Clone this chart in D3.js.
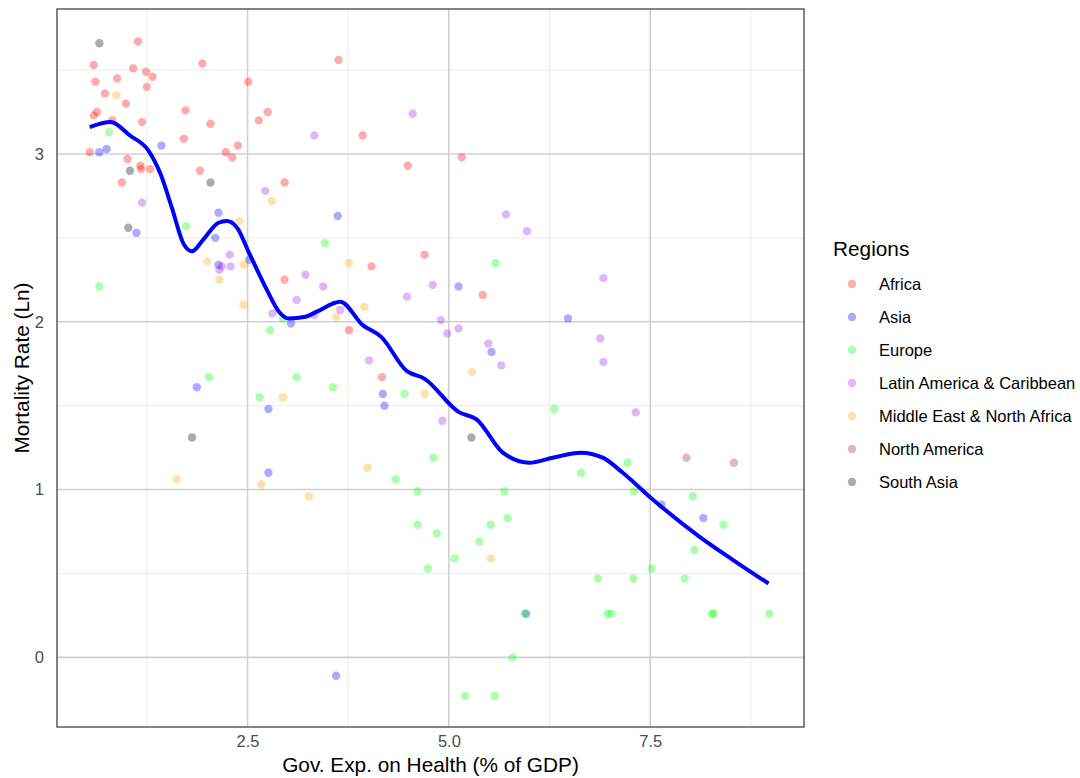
<!DOCTYPE html>
<html>
<head>
<meta charset="utf-8">
<script src="https://cdn.jsdelivr.net/npm/d3@7"></script>
<style>
  body { margin: 0; background: #fff; }
  svg { font-family: "Liberation Sans", Arial, sans-serif; }
</style>
</head>
<body>
<div id="chart"></div>
<script>
'use strict';

// regions, in legend order
var regionNames = ['Africa', 'Asia', 'Europe', 'Latin America & Caribbean',
  'Middle East & North Africa', 'North America', 'South Asia'];
var regionColors = ['#ff0000', '#0000ff', '#00ff00', '#a020f0', '#ffa500', '#a52a2a', '#000000'];

// [gov. health expenditure % GDP, ln mortality rate]
var africa = [[1.14, 3.67], [0.59, 3.53], [1.08, 3.51], [1.24, 3.49], [1.32, 3.46], [0.88, 3.45],
  [0.61, 3.43], [1.25, 3.40], [0.73, 3.36], [0.99, 3.30], [0.59, 3.23], [0.63, 3.25],
  [0.82, 3.20], [1.19, 3.19], [1.94, 3.54], [2.51, 3.43], [1.73, 3.26], [2.04, 3.18],
  [2.75, 3.25], [2.64, 3.20], [1.71, 3.09], [0.54, 3.01], [1.01, 2.97], [2.23, 3.01],
  [2.31, 2.98], [2.38, 3.05], [1.17, 2.93], [1.18, 2.91], [1.29, 2.91], [1.91, 2.90],
  [0.94, 2.83], [2.96, 2.83], [3.63, 3.56], [3.93, 3.11], [4.49, 2.93], [5.16, 2.98],
  [4.70, 2.40], [4.04, 2.33], [5.42, 2.16], [2.96, 2.25], [3.76, 1.95], [4.17, 1.67]];
var asia = [[1.43, 3.05], [0.66, 3.01], [0.75, 3.03], [2.14, 2.65], [1.12, 2.53], [2.10, 2.50],
  [2.14, 2.34], [2.52, 2.37], [3.62, 2.63], [3.04, 1.99], [1.87, 1.61], [2.76, 1.48],
  [2.76, 1.10], [5.12, 2.21], [6.48, 2.02], [5.53, 1.82], [4.18, 1.57], [4.20, 1.50],
  [5.96, 0.26], [3.60, -0.11], [7.64, 0.91], [8.16, 0.83]];
var europe = [[0.78, 3.13], [1.74, 2.57], [0.66, 2.21], [3.46, 2.47], [2.94, 2.02], [2.78, 1.95],
  [2.02, 1.67], [3.11, 1.67], [2.65, 1.55], [3.56, 1.61], [4.45, 1.57], [5.58, 2.35],
  [6.31, 1.48], [4.81, 1.19], [4.34, 1.06], [4.61, 0.99], [5.69, 0.99], [7.22, 1.16],
  [6.64, 1.10], [7.30, 0.99], [8.03, 0.96], [5.73, 0.83], [4.61, 0.79], [5.52, 0.79],
  [4.85, 0.74], [5.38, 0.69], [5.07, 0.59], [4.74, 0.53], [5.94, 0.26], [5.79, 0.00],
  [5.20, -0.23], [5.57, -0.23], [8.41, 0.79], [8.05, 0.64], [7.52, 0.53], [6.85, 0.47],
  [7.29, 0.47], [7.93, 0.47], [6.97, 0.26], [7.02, 0.26], [8.27, 0.26], [8.29, 0.26],
  [8.98, 0.26]];
var latinAmerica = [[3.33, 3.11], [1.19, 2.71], [2.72, 2.78], [2.28, 2.40], [2.18, 2.33],
  [2.15, 2.31], [2.29, 2.33], [3.22, 2.28], [3.11, 2.13], [2.81, 2.05], [3.33, 2.04],
  [4.55, 3.24], [5.71, 2.64], [5.97, 2.54], [3.44, 2.21], [4.80, 2.22], [4.48, 2.15],
  [3.65, 2.07], [4.90, 2.01], [5.12, 1.96], [4.98, 1.93], [5.49, 1.87], [4.01, 1.77],
  [5.65, 1.74], [4.92, 1.41], [6.92, 2.26], [6.88, 1.90], [6.92, 1.76], [7.32, 1.46]];
var middleEast = [[0.87, 3.35], [2.80, 2.72], [2.40, 2.60], [2.00, 2.36], [2.45, 2.34],
  [2.15, 2.25], [2.45, 2.10], [2.94, 1.55], [1.62, 1.06], [2.67, 1.03], [3.26, 0.96],
  [3.76, 2.35], [3.95, 2.09], [3.60, 2.03], [5.29, 1.70], [4.70, 1.57], [3.99, 1.13],
  [5.52, 0.59]];
var northAmerica = [[7.95, 1.19], [8.54, 1.16]];
var southAsia = [[0.66, 3.66], [1.04, 2.90], [2.04, 2.83], [1.02, 2.56], [1.81, 1.31], [5.28, 1.31]];

// smoothed trend
var smoothX = [0.54, 0.80, 1.04, 1.27, 1.42, 1.56, 1.71, 1.81, 1.95, 2.14, 2.24, 2.37, 2.51,
  2.74, 2.89, 3.01, 3.22, 3.36, 3.65, 3.93, 4.16, 4.47, 4.70, 5.13, 5.34, 5.67, 6.00,
  6.29, 6.64, 6.91, 7.16, 7.51, 8.11, 8.53, 8.97];
var smoothY = [3.16, 3.19, 3.11, 3.02, 2.88, 2.68, 2.46, 2.42, 2.49, 2.59, 2.60, 2.56, 2.42,
  2.19, 2.06, 2.02, 2.03, 2.06, 2.12, 1.98, 1.91, 1.71, 1.66, 1.46, 1.42, 1.22, 1.16,
  1.19, 1.22, 1.19, 1.10, 0.95, 0.72, 0.58, 0.44];

var xTicks = [2.5, 5.0, 7.5];
var xMinorTicks = [1.25, 3.75, 6.25, 8.75];
var yTicks = [0, 1, 2, 3];
var yMinorTicks = [-0.5, 0.5, 1.5, 2.5, 3.5];

var regionPoints = [africa, asia, europe, latinAmerica, middleEast, northAmerica, southAsia];

var width = 1080,
    height = 778,
    margin = { top: 9, right: 276, bottom: 51, left: 57 },
    innerW = width - margin.left - margin.right,
    innerH = height - margin.top - margin.bottom;

var svg = d3.select('#chart').append('svg')
  .attr('width', width)
  .attr('height', height);

var x = d3.scaleLinear().domain([0.134, 9.41]).range([margin.left, margin.left + innerW]),
    y = d3.scaleLinear().domain([-0.415, 3.864]).range([margin.top + innerH, margin.top]);

var panel = svg.append('g');

// minor grid
panel.selectAll('line.xminor').data(xMinorTicks).enter().append('line')
  .attr('x1', function (d) { return x(d); }).attr('x2', function (d) { return x(d); })
  .attr('y1', margin.top).attr('y2', margin.top + innerH)
  .attr('stroke', '#ebebeb').attr('stroke-width', 1);
panel.selectAll('line.yminor').data(yMinorTicks.filter(function (d) { return d > y.domain()[0] && d < y.domain()[1]; }))
  .enter().append('line')
  .attr('y1', function (d) { return y(d); }).attr('y2', function (d) { return y(d); })
  .attr('x1', margin.left).attr('x2', margin.left + innerW)
  .attr('stroke', '#ebebeb').attr('stroke-width', 1);

// major grid
panel.selectAll('line.xmajor').data(xTicks).enter().append('line')
  .attr('x1', function (d) { return x(d); }).attr('x2', function (d) { return x(d); })
  .attr('y1', margin.top).attr('y2', margin.top + innerH)
  .attr('stroke', '#d0d0d0').attr('stroke-width', 1.6);
panel.selectAll('line.ymajor').data(yTicks).enter().append('line')
  .attr('y1', function (d) { return y(d); }).attr('y2', function (d) { return y(d); })
  .attr('x1', margin.left).attr('x2', margin.left + innerW)
  .attr('stroke', '#d0d0d0').attr('stroke-width', 1.6);

// points
regionPoints.forEach(function (pts, i) {
  panel.append('g').selectAll('circle').data(pts).enter().append('circle')
    .attr('cx', function (d) { return x(d[0]); })
    .attr('cy', function (d) { return y(d[1]); })
    .attr('r', 4.2)
    .attr('fill', regionColors[i])
    .attr('fill-opacity', 0.33);
});

// smooth line
var smooth = smoothX.map(function (d, i) { return [d, smoothY[i]]; });
panel.append('path')
  .datum(smooth)
  .attr('fill', 'none')
  .attr('stroke', '#0000ff')
  .attr('stroke-width', 4)
  .attr('stroke-linejoin', 'round')
  .attr('d', d3.line()
    .x(function (d) { return x(d[0]); })
    .y(function (d) { return y(d[1]); })
    .curve(d3.curveMonotoneX));

// panel border
svg.append('rect')
  .attr('x', margin.left).attr('y', margin.top)
  .attr('width', innerW).attr('height', innerH)
  .attr('fill', 'none').attr('stroke', '#333').attr('stroke-width', 1.2);

// axes (labels only, no tick marks)
var xAxis = svg.append('g')
  .attr('transform', 'translate(0,' + (margin.top + innerH) + ')')
  .call(d3.axisBottom(x).tickValues(xTicks).tickFormat(d3.format('.1f')).tickSize(0).tickPadding(8));
var yAxis = svg.append('g')
  .attr('transform', 'translate(' + margin.left + ',0)')
  .call(d3.axisLeft(y).tickValues(yTicks).tickFormat(d3.format('d')).tickSize(0).tickPadding(13));
[xAxis, yAxis].forEach(function (a) {
  a.select('.domain').remove();
  a.selectAll('text')
    .attr('fill', '#4d4d4d')
    .style('font-size', '16.5px')
    .style('font-family', '"Liberation Sans", Arial, sans-serif');
});

// axis titles
svg.append('text')
  .attr('x', margin.left + innerW / 2)
  .attr('y', 772)
  .attr('text-anchor', 'middle')
  .attr('fill', '#000')
  .style('font-size', '20.8px')
  .text('Gov. Exp. on Health (% of GDP)');
svg.append('text')
  .attr('transform', 'translate(29,' + (margin.top + innerH / 2) + ') rotate(-90)')
  .attr('text-anchor', 'middle')
  .attr('fill', '#000')
  .style('font-size', '20.8px')
  .text('Mortality Rate (Ln)');

// legend
var legend = svg.append('g').attr('transform', 'translate(833,0)');
legend.append('text')
  .attr('x', 0).attr('y', 256)
  .attr('fill', '#000')
  .style('font-size', '20.8px')
  .text('Regions');
var keys = legend.selectAll('g.key').data(regionNames).enter().append('g')
  .attr('class', 'key')
  .attr('transform', function (d, i) { return 'translate(0,' + (284 + i * 33) + ')'; });
keys.append('circle')
  .attr('cx', 19).attr('cy', 0).attr('r', 4.2)
  .attr('fill', function (d, i) { return regionColors[i]; })
  .attr('fill-opacity', 0.33);
keys.append('text')
  .attr('x', 46).attr('y', 6)
  .attr('fill', '#000')
  .style('font-size', '16.5px')
  .text(function (d) { return d; });
</script>
</body>
</html>
